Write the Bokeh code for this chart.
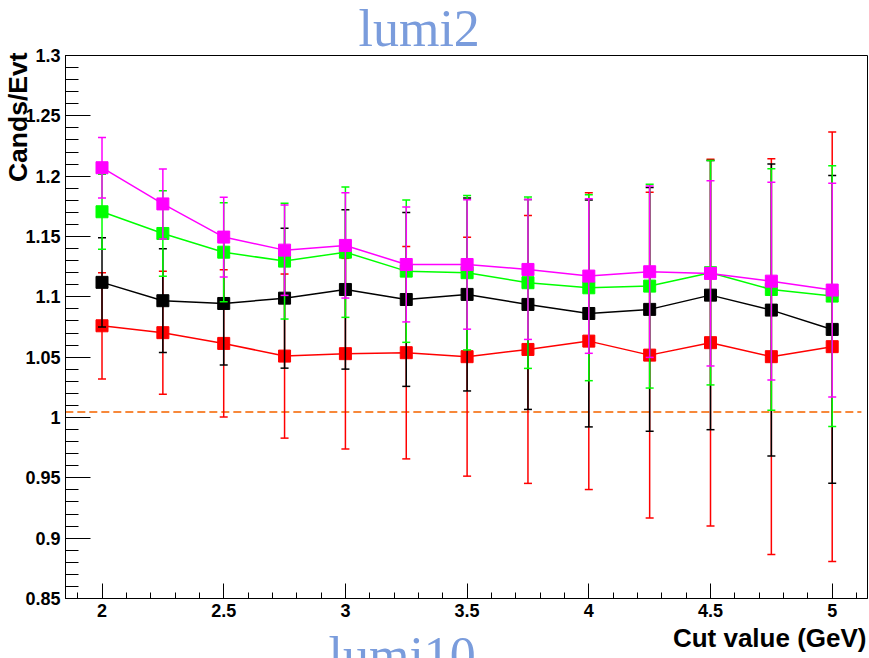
import numpy as np
from bokeh.plotting import figure
from bokeh.models import Range1d, FixedTicker, Title
from bokeh.embed import file_html
from bokeh.resources import INLINE

# ---- data -------------------------------------------------------------
cut_values = [2.0, 2.25, 2.5, 2.75, 3.0, 3.25, 3.5, 3.75, 4.0, 4.25, 4.5, 4.75, 5.0]

cands_red = [1.076, 1.0703, 1.0614, 1.0509, 1.0529, 1.0537, 1.0504, 1.0564, 1.0633, 1.0517, 1.062, 1.0504, 1.0587]
err_red = [0.044, 0.051, 0.061, 0.068, 0.079, 0.088, 0.099, 0.111, 0.123, 0.135, 0.152, 0.164, 0.178]

cands_black = [1.112, 1.0968, 1.0945, 1.0989, 1.1061, 1.0978, 1.102, 1.0937, 1.0862, 1.0896, 1.1014, 1.089, 1.073]
err_black = [0.037, 0.043, 0.051, 0.058, 0.066, 0.072, 0.08, 0.087, 0.094, 0.101, 0.1115, 0.121, 0.1275]

cands_green = [1.1705, 1.1525, 1.137, 1.1296, 1.137, 1.1213, 1.12, 1.1117, 1.1075, 1.1089, 1.12, 1.1061, 1.1006]
err_green = [0.031, 0.0355, 0.041, 0.048, 0.054, 0.059, 0.064, 0.071, 0.077, 0.0845, 0.093, 0.10, 0.108]

cands_magenta = [1.207, 1.177, 1.1495, 1.1387, 1.1426, 1.1268, 1.1268, 1.1227, 1.1172, 1.1208, 1.1194, 1.113, 1.1056]
err_magenta = [0.025, 0.029, 0.033, 0.0375, 0.0436, 0.0476, 0.0536, 0.058, 0.064, 0.071, 0.0767, 0.082, 0.0886]

x_ticks = [2.0, 2.5, 3.0, 3.5, 4.0, 4.5, 5.0]
x_tick_labels = ["2", "2.5", "3", "3.5", "4", "4.5", "5"]
y_ticks = [0.85, 0.9, 0.95, 1.0, 1.05, 1.1, 1.15, 1.2, 1.25, 1.3]
y_tick_labels = ["0.85", "0.9", "0.95", "1", "1.05", "1.1", "1.15", "1.2", "1.25", "1.3"]

reference_level = 1.0045
reference_span = [1.8, 5.12]

# ---- figure -----------------------------------------------------------
LEFT, RIGHT, TOP, BOTTOM = 65, 2, 55, 60
W, H = 869, 658

p = figure(width=W, height=H, output_backend="svg", toolbar_location=None,
           x_range=Range1d(1.85, 5.145), y_range=Range1d(0.85, 1.3),
           min_border_left=LEFT, min_border_right=RIGHT,
           min_border_top=TOP, min_border_bottom=BOTTOM)
p.background_fill_color = "white"
p.border_fill_color = "white"
p.outline_line_color = "black"
p.outline_line_width = 1
p.xgrid.visible = False
p.ygrid.visible = False

label_font = "Liberation Sans"

p.xaxis.ticker = FixedTicker(ticks=x_ticks,
                             minor_ticks=list(np.round(np.arange(1.9, 5.15, 0.1), 2)))
p.xaxis.major_label_overrides = dict(zip(x_ticks, x_tick_labels))
p.yaxis.ticker = FixedTicker(ticks=y_ticks,
                             minor_ticks=list(np.round(np.arange(0.86, 1.30, 0.01), 2)))
p.yaxis.major_label_overrides = dict(zip(y_ticks, y_tick_labels))

for ax in (p.xaxis, p.yaxis):
    ax.axis_line_color = "black"
    ax.major_tick_line_color = "black"
    ax.minor_tick_line_color = "black"
    ax.major_tick_out = 0
    ax.minor_tick_out = 0
    ax.major_label_text_font = label_font
    ax.major_label_text_font_style = "bold"
    ax.major_label_text_font_size = "18px"
    ax.major_label_text_color = "black"

p.xaxis.major_tick_in = 15
p.xaxis.minor_tick_in = 6
p.xaxis.major_label_standoff = 5
p.yaxis.major_tick_in = 25
p.yaxis.minor_tick_in = 13
p.yaxis.major_label_standoff = 5

# dashed reference level
p.line(reference_span, [reference_level, reference_level],
       line_color="#f7883a", line_width=2, line_dash="8 4")

# the four series, each: connecting line, error bars with caps, square markers
series = [
    (cands_red, err_red, "#ff0000"),
    (cands_black, err_black, "#000000"),
    (cands_green, err_green, "#00ff00"),
    (cands_magenta, err_magenta, "#ff00ff"),
]
for vals, errs, col in series:
    v = np.array(vals)
    e = np.array(errs)
    p.line(cut_values, vals, line_color=col, line_width=1.5)
    p.segment(cut_values, v - e, cut_values, v + e, line_color=col, line_width=1.5)
    p.scatter(cut_values, v + e, marker="dash", size=8, line_color=col, line_width=1.5)
    p.scatter(cut_values, v - e, marker="dash", size=8, line_color=col, line_width=1.5)
    p.scatter(cut_values, vals, marker="square", size=12, fill_color=col, line_color=col)

# ---- titles in the side panels ----------------------------------------
title_color = "#7a9cdc"

p.add_layout(Title(text="lumi2", align="left", vertical_align="middle",
                   offset=293, standoff=-5,
                   text_font="Liberation Serif", text_font_size="52px",
                   text_font_style="normal", text_color=title_color), "above")

p.add_layout(Title(text="Cands/Evt", align="right", vertical_align="top",
                   offset=-3, standoff=-24,
                   text_font=label_font, text_font_size="26.5px",
                   text_font_style="bold", text_color="black"), "left")

p.add_layout(Title(text="Cut value (GeV)", align="right", vertical_align="bottom",
                   offset=1, standoff=2,
                   text_font=label_font, text_font_size="26px",
                   text_font_style="bold", text_color="black"), "below")

p.add_layout(Title(text="lumi10", align="left", vertical_align="bottom",
                   offset=263, standoff=-58,
                   text_font="Liberation Serif", text_font_size="52px",
                   text_font_style="normal", text_color=title_color), "below")

open("out.html", "w").write(file_html(p, INLINE))
